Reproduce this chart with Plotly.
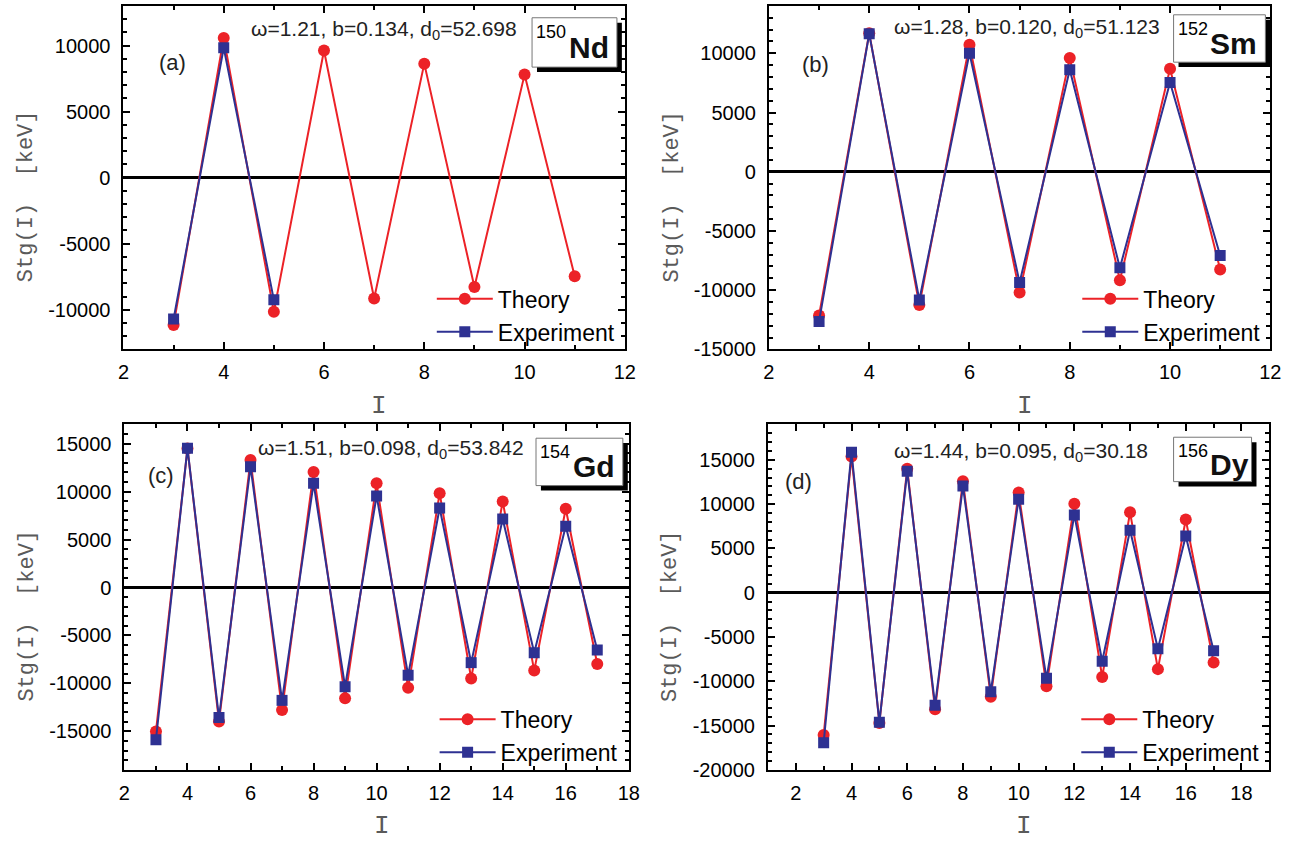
import plotly.graph_objects as go

W, H = 1305, 844

# ---- staggering Stg(I) [keV] versus spin I ----
spin_nd = [3, 4, 5, 6, 7, 8, 9, 10, 11]
theory_nd = [-11150, 10570, -10150, 9630, -9150, 8630, -8280, 7800, -7460]
spin_nd_exp = [3, 4, 5]
exp_nd = [-10700, 9830, -9250]

spin_sm = [3, 4, 5, 6, 7, 8, 9, 10, 11]
theory_sm = [-12140, 11690, -11250, 10720, -10190, 9610, -9170, 8690, -8250]
exp_sm = [-12640, 11640, -10830, 10000, -9360, 8610, -8110, 7530, -7080]

spin_gd = [3, 4, 5, 6, 7, 8, 9, 10, 11, 12, 13, 14, 15, 16, 17]
theory_gd = [-15000, 14480, -13970, 13280, -12760, 12030, -11550, 10860,
             -10450, 9830, -9480, 8970, -8660, 8210, -7970]
exp_gd = [-15860, 14520, -13550, 12590, -11760, 10860, -10340, 9550,
          -9140, 8280, -7830, 7140, -6790, 6380, -6520]

spin_dy = [3, 4, 5, 6, 7, 8, 9, 10, 11, 12, 13, 14, 15, 16, 17]
theory_dy = [-16070, 15370, -14700, 14000, -13150, 12590, -11740, 11300,
             -10560, 10040, -9520, 9070, -8630, 8260, -7890]
exp_dy = [-16930, 15850, -14630, 13700, -12700, 12040, -11190, 10560,
          -9670, 8780, -7740, 7040, -6330, 6410, -6560]

panel_tags = ["(a)", "(b)", "(c)", "(d)"]
mass_numbers = ["150", "152", "154", "156"]
elements = ["Nd", "Sm", "Gd", "Dy"]
fit_params = [
    "ω=1.21, b=0.134, d<sub>0</sub>=52.698",
    "ω=1.28, b=0.120, d<sub>0</sub>=51.123",
    "ω=1.51, b=0.098, d<sub>0</sub>=53.842",
    "ω=1.44, b=0.095, d<sub>0</sub>=30.18",
]

x_ranges = [[2, 12], [2, 12], [2, 18], [1, 19]]
y_ranges = [[-13000, 13000], [-15000, 14000], [-19000, 17000], [-20000, 19000]]
x_ticks = [[2, 4, 6, 8, 10, 12], [2, 4, 6, 8, 10, 12],
           list(range(2, 19, 2)), list(range(2, 19, 2))]
y_ticks = [[-10000, -5000, 0, 5000, 10000],
           [-15000, -10000, -5000, 0, 5000, 10000],
           [-15000, -10000, -5000, 0, 5000, 10000, 15000],
           [-20000, -15000, -10000, -5000, 0, 5000, 10000, 15000]]

series = [
    (spin_nd, theory_nd, spin_nd_exp, exp_nd),
    (spin_sm, theory_sm, spin_sm, exp_sm),
    (spin_gd, theory_gd, spin_gd, exp_gd),
    (spin_dy, theory_dy, spin_dy, exp_dy),
]

RED = "#ec2227"
BLUE = "#2e3192"
SANS = "Liberation Sans, Arial, sans-serif"
MONO = "Liberation Mono, Courier New, monospace"

# plot boxes in pixels: left, top, right, bottom
boxes = [(119, 6, 627, 354), (773, 6, 1281, 354),
         (120, 430, 631, 780), (772, 430, 1280, 780)]
# parameter-text centre and panel-tag centre, pixels
param_pos = [(383, 30), (1034, 28), (390, 455), (1028, 458)]
tag_pos = [(169, 63), (820, 65), (157, 482), (803, 488)]
# nucleus label boxes: left, top, right, bottom
label_boxes = [(533, 18, 619, 68), (1183, 15, 1276, 63),
               (537, 444, 625, 492), (1183, 443, 1262, 488)]


def px(x):
    return x / W


def py(y):
    return 1 - y / H


def note(x, y, text, font, **kw):
    d = dict(x=px(x), y=py(y), xref="paper", yref="paper", text=text,
             showarrow=False, xanchor="center", yanchor="middle", font=font)
    d.update(kw)
    return d


fig = go.Figure()
annotations = []
shapes = []
layout_axes = {}

for k in range(4):
    n = "" if k == 0 else str(k + 1)
    l, t, r, b = boxes[k]
    xs_t, ys_t, xs_e, ys_e = series[k]
    leg = "legend" if k == 0 else f"legend{k + 1}"

    fig.add_trace(go.Scatter(
        x=xs_t, y=ys_t, mode="lines+markers", name="Theory",
        xaxis="x" + n, yaxis="y" + n, legend=leg,
        line=dict(color=RED, width=2),
        marker=dict(symbol="circle", size=12, color=RED)))
    fig.add_trace(go.Scatter(
        x=xs_e, y=ys_e, mode="lines+markers", name="Experiment",
        xaxis="x" + n, yaxis="y" + n, legend=leg,
        line=dict(color=BLUE, width=2),
        marker=dict(symbol="square", size=11, color=BLUE)))

    common = dict(showline=True, linewidth=2, linecolor="black", mirror="ticks",
                  ticks="inside", ticklen=7, tickwidth=2, tickcolor="black",
                  showgrid=False, tickfont=dict(family=SANS, size=20, color="black"))
    layout_axes["xaxis" + n] = dict(
        common, domain=[px(l), px(r)], anchor="y" + n, range=x_ranges[k],
        tickmode="array", tickvals=x_ticks[k], ticktext=[str(v) for v in x_ticks[k]],
        zeroline=False, ticklabelstandoff=4,
        minor=dict(ticks="inside", ticklen=4, tickwidth=2, tickcolor="black",
                   tick0=1, dtick=1, showgrid=False))
    layout_axes["yaxis" + n] = dict(
        common, domain=[py(b), py(t)], anchor="x" + n, range=y_ranges[k],
        tickmode="array", tickvals=y_ticks[k], ticktext=[str(v) for v in y_ticks[k]],
        zeroline=True, zerolinecolor="black", zerolinewidth=2.5,
        ticklabelstandoff=7,
        minor=dict(ticks="inside", ticklen=4, tickwidth=2, tickcolor="black",
                   tick0=0, dtick=1000, showgrid=False))

    # legend placed in lower right of each panel
    layout_axes[leg] = dict(
        x=px(l + (r - l) * 0.615), y=py(b + 4), xanchor="left", yanchor="bottom",
        bgcolor="rgba(0,0,0,0)", borderwidth=0, itemwidth=56,
        font=dict(family=SANS, size=23, color="black"), tracegroupgap=0)

    # axis titles
    annotations.append(note(l - 98, (t + b) / 2 + 19, "Stg(I)  [keV]",
                            dict(family=MONO, size=22, color="#5a5a5a"),
                            textangle=-90))
    annotations.append(note((l + r) / 2 + 5, b + 57, "I",
                            dict(family=MONO, size=26, color="#5a5a5a")))

    # panel tag and fit parameters
    annotations.append(note(*tag_pos[k], panel_tags[k],
                            dict(family=SANS, size=22, color="#222222")))
    annotations.append(note(*param_pos[k], fit_params[k],
                            dict(family=SANS, size=21, color="#222222")))

    # nucleus label box with drop shadow
    bx0, by0, bx1, by1 = label_boxes[k]
    shapes.append(dict(type="rect", xref="paper", yref="paper", layer="above",
                       x0=px(bx0 + 5), x1=px(bx1 + 5), y0=py(by1 + 5), y1=py(by0 + 5),
                       fillcolor="black", line=dict(width=0)))
    shapes.append(dict(type="rect", xref="paper", yref="paper", layer="above",
                       x0=px(bx0), x1=px(bx1), y0=py(by1), y1=py(by0),
                       fillcolor="white", line=dict(color="#777777", width=1)))
    annotations.append(note(bx0 + 2, by0 + 14, mass_numbers[k],
                            dict(family=SANS, size=18, color="black"),
                            xanchor="left"))
    annotations.append(note(bx0 + 35, (by0 + by1) / 2 + 5, "<b>" + elements[k] + "</b>",
                            dict(family=SANS, size=30, color="#111111"),
                            xanchor="left"))

fig.update_layout(
    width=W, height=H, margin=dict(l=0, r=0, t=0, b=0),
    paper_bgcolor="white", plot_bgcolor="white",
    annotations=annotations, shapes=shapes, **layout_axes)

fig.write_html("out.html")
